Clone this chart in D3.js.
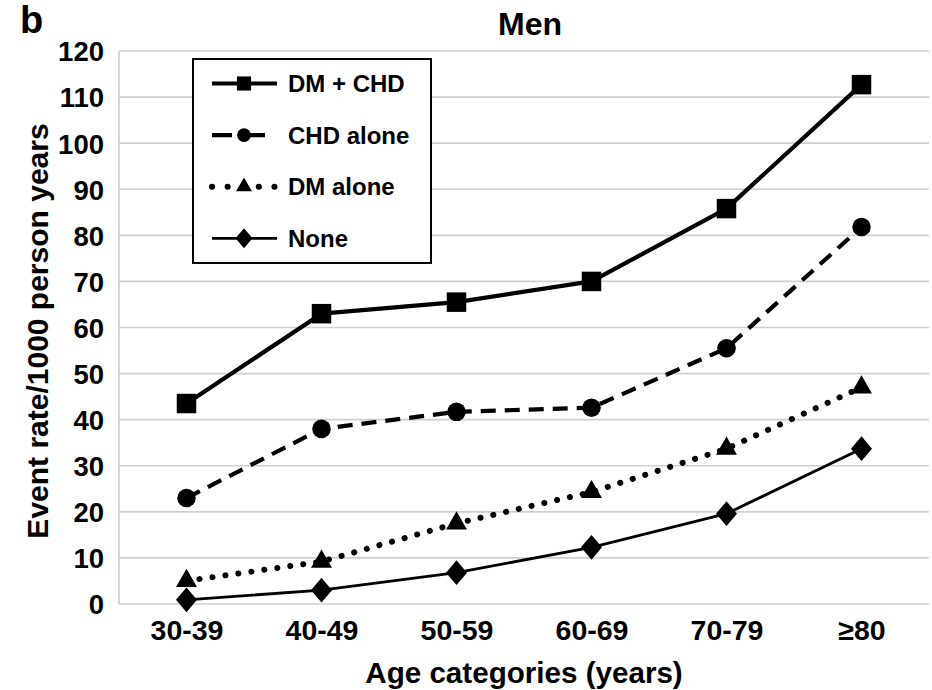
<!DOCTYPE html>
<html>
<head>
<meta charset="utf-8">
<script src="https://cdn.jsdelivr.net/npm/d3@7"></script>
<style>
  body { margin: 0; background: #fff; }
  svg { display: block; font-family: "Liberation Sans", Arial, sans-serif; font-weight: bold; }
</style>
</head>
<body>
<svg id="chart" width="932" height="690"></svg>
<script>
// ---- data ----
const categories = ["30-39", "40-49", "50-59", "60-69", "70-79", "≥80"];
const dmChd = [43.5, 63, 65.5, 70, 85.8, 112.7];
const chdAlone = [23, 38, 41.7, 42.6, 55.5, 81.8];
const dmAlone = [5, 9.2, 17.5, 24.3, 33.7, 47];
const none = [0.9, 3, 6.8, 12.3, 19.6, 33.7];
const seriesNames = ["DM + CHD", "CHD alone", "DM alone", "None"];
const yTicks = [0, 10, 20, 30, 40, 50, 60, 70, 80, 90, 100, 110, 120];

// squat diamond symbol (width/height ~0.85)
const wideDiamond = {
  draw(context, size) {
    const h = Math.sqrt(size / 1.7);
    const w = h * 0.85;
    context.moveTo(0, -h);
    context.lineTo(w, 0);
    context.lineTo(0, h);
    context.lineTo(-w, 0);
    context.closePath();
  }
};

const series = [
  { name: seriesNames[0], values: dmChd, symbol: d3.symbolSquare, size: 380, lsize: 200, width: 4.2, dash: null, ldash: null, cap: "butt" },
  { name: seriesNames[1], values: chdAlone, symbol: d3.symbolCircle, size: 270, lsize: 150, width: 4.2, dash: "15 9", ldash: "20 13", cap: "butt" },
  { name: seriesNames[2], values: dmAlone, symbol: d3.symbolTriangle, size: 190, lsize: 110, width: 6, dash: "0.1 13", ldash: "0.1 15.5", cap: "round" },
  { name: seriesNames[3], values: none, symbol: wideDiamond, size: 260, lsize: 170, width: 2.8, dash: null, ldash: null, cap: "butt" }
];

const svg = d3.select("#chart");
const mLeft = 119, mRight = 929, mTop = 51, mBottom = 604;

const x = d3.scalePoint().domain(categories).range([mLeft, mRight]).padding(0.5);
const y = d3.scaleLinear().domain([0, 120]).range([mBottom, mTop]);

// gridlines
svg.append("g").selectAll("line").data(yTicks).join("line")
  .attr("x1", mLeft).attr("x2", mRight)
  .attr("y1", d => y(d)).attr("y2", d => y(d))
  .attr("stroke", "#cfcfcf").attr("stroke-width", 1.6);

// y axis line
svg.append("line").attr("x1", mLeft).attr("x2", mLeft).attr("y1", mTop).attr("y2", mBottom)
  .attr("stroke", "#cfcfcf").attr("stroke-width", 1.6);

// y axis labels
const yAxis = d3.axisLeft(y).tickValues(yTicks).tickSize(0).tickPadding(15);
const gy = svg.append("g").attr("transform", `translate(${mLeft},0)`).call(yAxis);
gy.select(".domain").remove();
gy.selectAll("text").attr("font-size", 27.5).attr("font-family", "Liberation Sans, Arial, sans-serif")
  .attr("font-weight", "bold").attr("fill", "#000").attr("dy", "0.36em");

// x axis labels
const xAxis = d3.axisBottom(x).tickSize(0).tickPadding(16);
const gx = svg.append("g").attr("transform", `translate(0,${mBottom})`).call(xAxis);
gx.select(".domain").remove();
gx.selectAll("text").attr("font-size", 28.5).attr("font-family", "Liberation Sans, Arial, sans-serif")
  .attr("font-weight", "bold").attr("fill", "#000").attr("dy", "0.71em");

// axis titles
svg.append("text").attr("x", 524).attr("y", 683).attr("text-anchor", "middle")
  .attr("font-size", 29.6).text("Age categories (years)");
svg.append("text").attr("transform", "translate(48,331) rotate(-90)").attr("text-anchor", "middle")
  .attr("font-size", 30).text("Event rate/1000 person years");

// title
svg.append("text").attr("x", 530).attr("y", 35).attr("text-anchor", "middle")
  .attr("font-size", 32).text("Men");

// panel letter
svg.append("text").attr("x", 20).attr("y", 33).attr("font-size", 38).text("b");

// lines
const line = d3.line().x((d, i) => x(categories[i])).y(d => y(d));
series.forEach(s => {
  svg.append("path").datum(s.values).attr("d", line)
    .attr("fill", "none").attr("stroke", "#000").attr("stroke-width", s.width)
    .attr("stroke-linecap", s.cap).attr("stroke-linejoin", "round")
    .attr("stroke-dasharray", s.dash);
});
series.forEach(s => {
  svg.append("g").selectAll("path").data(s.values).join("path")
    .attr("d", d3.symbol().type(s.symbol).size(s.size))
    .attr("transform", (d, i) => `translate(${x(categories[i])},${y(d)})`)
    .attr("fill", "#000");
});

// legend
const lg = svg.append("g");
lg.append("rect").attr("x", 193).attr("y", 59).attr("width", 238).attr("height", 204)
  .attr("fill", "#fff").attr("stroke", "#000").attr("stroke-width", 2);
series.forEach((s, i) => {
  const cy = 83.5 + i * 51.6;
  lg.append("line").attr("x1", 212).attr("x2", 277).attr("y1", cy).attr("y2", cy)
    .attr("stroke", "#000").attr("stroke-width", s.width)
    .attr("stroke-linecap", s.cap)
    .attr("stroke-dasharray", s.ldash);
  lg.append("path").attr("d", d3.symbol().type(s.symbol).size(s.lsize)())
    .attr("transform", `translate(244,${cy})`).attr("fill", "#000");
  lg.append("text").attr("x", 288).attr("y", cy).attr("dy", "0.36em")
    .attr("font-size", 24).text(s.name);
});
</script>
</body>
</html>
